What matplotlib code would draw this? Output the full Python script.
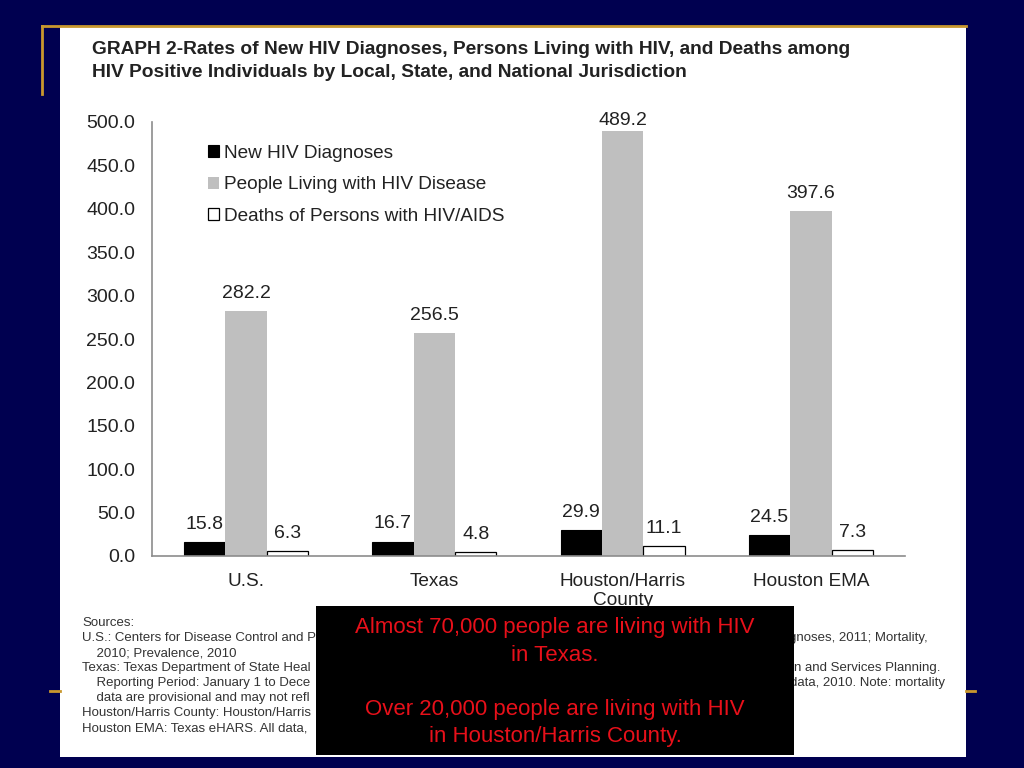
import matplotlib
matplotlib.use("Agg")
import matplotlib.pyplot as plt
from matplotlib.patches import Rectangle
from matplotlib.lines import Line2D

plt.rcParams['font.family'] = ['Liberation Sans', 'DejaVu Sans']

# ---- data ----
categories = ["U.S.", "Texas", "Houston/Harris\nCounty", "Houston EMA"]
series_names = ["New HIV Diagnoses", "People Living with HIV Disease", "Deaths of Persons with HIV/AIDS"]
new_diagnoses = [15.8, 16.7, 29.9, 24.5]
living_with_hiv = [282.2, 256.5, 489.2, 397.6]
deaths = [6.3, 4.8, 11.1, 7.3]
y_ticks = [0, 50, 100, 150, 200, 250, 300, 350, 400, 450, 500]

title_lines = ["GRAPH 2-Rates of New HIV Diagnoses, Persons Living with HIV, and Deaths among",
               "HIV Positive Individuals by Local, State, and National Jurisdiction"]
callout_lines = ["Almost 70,000 people are living with HIV", "in Texas.", "",
                 "Over 20,000 people are living with HIV", "in Houston/Harris County."]
source_left = ["Sources:",
               "U.S.: Centers for Disease Control and P",
               "    2010; Prevalence, 2010",
               "Texas: Texas Department of State Heal",
               "    Reporting Period: January 1 to Dece",
               "    data are provisional and may not refl",
               "Houston/Harris County: Houston/Harris",
               "Houston EMA: Texas eHARS. All data,"]
source_right = ["", "gnoses, 2011; Mortality,", "", "n and Services Planning.",
                "data, 2010. Note: mortality", "", "", ""]

W, H = 1024, 768
fig = plt.figure(figsize=(W / 100, H / 100), dpi=100)
fig.patch.set_facecolor('#000050')

def fx(x):
    return x / W

def fy(y):
    return 1 - y / H

# white panel
fig.patches.append(Rectangle((fx(60), fy(757)), fx(966) - fx(60), fy(27) - fy(757),
                             transform=fig.transFigure, facecolor='white', edgecolor='none', zorder=-2))
gold = '#C9982E'
for (x0, y0, x1, y1) in [(42, 26, 966, 26), (42, 26, 42, 94), (50, 691, 60, 691), (966, 691, 975, 691)]:
    fig.lines.append(Line2D([fx(x0), fx(x1)], [fy(y0), fy(y1)], transform=fig.transFigure,
                            color=gold, linewidth=2, zorder=-1))

# title
for i, line in enumerate(title_lines):
    fig.text(fx(92), fy(49 + 23.5 * i), line, fontsize=13.75, fontweight='bold', color='#222222',
             ha='left', va='center')

# axes
ax = fig.add_axes([fx(152), fy(556), fx(905) - fx(152), fy(122) - fy(556)])
ax.set_facecolor('none')
xs = list(range(len(categories)))
bw = 0.22
b1 = ax.bar([x - bw for x in xs], new_diagnoses, bw, color='black', edgecolor='black', linewidth=0.8,
            label=series_names[0])
b2 = ax.bar(xs, living_with_hiv, bw, color='#BFBFBF', edgecolor='#BFBFBF', linewidth=0,
            label=series_names[1])
b3 = ax.bar([x + bw for x in xs], deaths, bw, color='white', edgecolor='black', linewidth=0.9,
            label=series_names[2])

for bars, vals in [(b1, new_diagnoses), (b2, living_with_hiv), (b3, deaths)]:
    for rect, v in zip(bars, vals):
        off = 1.5 if v > 470 else 6.5
        ax.annotate(f"{v:.1f}", (rect.get_x() + rect.get_width() / 2, v), xytext=(0, off),
                    textcoords='offset points', ha='center', va='bottom', fontsize=14,
                    color='#222222', annotation_clip=False)

ax.set_xlim(-0.5, len(categories) - 0.5)
ax.set_ylim(0, 500)
ax.set_yticks(y_ticks)
ax.set_yticklabels([f"{t:.1f}" for t in y_ticks])
ax.set_xticks(xs)
ax.set_xticklabels(categories, linespacing=1.1)
ax.tick_params(axis='y', length=0, pad=12, labelsize=14, labelcolor='#222222')
ax.tick_params(axis='x', length=0, pad=12.5, labelsize=13.7, labelcolor='#222222')
for s in ['top', 'right']:
    ax.spines[s].set_visible(False)
for s in ['left', 'bottom']:
    ax.spines[s].set_color('#8C8C8C')
    ax.spines[s].set_linewidth(1.2)

leg = ax.legend(handles=[b1, b2, b3], loc='upper left', bbox_to_anchor=(fx(208), fy(145)),
                bbox_transform=fig.transFigure, frameon=False, fontsize=13.7,
                handlelength=0.6, handleheight=0.6, handletextpad=0.25, labelspacing=0.76,
                borderpad=0, borderaxespad=0)
for t in leg.get_texts():
    t.set_color('#222222')

# sources
ends = {1: 928, 3: 940, 4: 945}
for i, (l, r) in enumerate(zip(source_left, source_right)):
    y = fy(623 + 15.05 * i)
    fig.text(fx(82), y, l, fontsize=9.5, color='#333333', ha='left', va='center', zorder=2)
    if r:
        fig.text(fx(ends[i]), y, r, fontsize=9.5, color='#333333', ha='right', va='center', zorder=2)

# callout box
fig.patches.append(Rectangle((fx(316), fy(755)), fx(794) - fx(316), fy(606) - fy(755),
                             transform=fig.transFigure, facecolor='black', edgecolor='none', zorder=5))
for i, line in enumerate(callout_lines):
    if line:
        fig.text(fx(555), fy(628 + 27.2 * i), line, fontsize=16, color='#E8101A',
                 ha='center', va='center', zorder=6)

fig.savefig("out.png", dpi=100, facecolor=fig.get_facecolor())
